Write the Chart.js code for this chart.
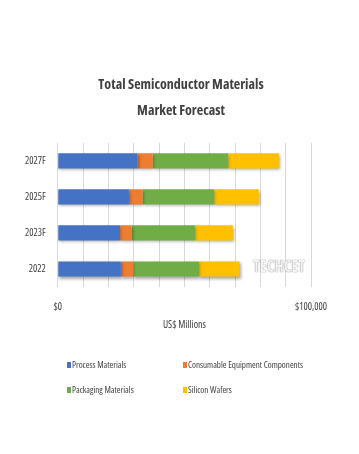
<!DOCTYPE html>
<html>
<head>
<meta charset="utf-8">
<script src="https://cdn.jsdelivr.net/npm/chart.js@4"></script>
<style>
  html, body { margin: 0; padding: 0; background: #fff; }
  #wrap { position: relative; width: 359px; height: 454px; }
  #chart { position: absolute; left: 0; top: 0; }
  .legend-item { position: absolute; font-family: 'Open Sans', sans-serif; font-stretch: condensed; font-size: 9px; color: #404040; white-space: nowrap; line-height: 10px; }
  .legend-item i { display: inline-block; width: 4px; height: 6px; margin-right: 1px; }
  #mark { position: absolute; left: 253px; top: 255px; font-family: 'Open Sans', sans-serif; font-stretch: condensed; font-weight: bold; font-size: 16px; color: #f4f4f4; text-shadow: 0 0 1px #888, 0 0 1px #888; }
</style>
</head>
<body>
<div id="wrap">
  <canvas id="chart" width="359" height="454"></canvas>
  <div id="mark">TECHCET</div>
</div>
<script>
// Categories, top to bottom.
const YEARS = ['2027F', '2025F', '2023F', '2022'];

// Values in US$ millions.
const PROCESS_MATERIALS = [31500, 28100, 24600, 24900];
const CONSUMABLE_COMPONENTS = [6000, 5400, 4600, 4900];
const PACKAGING_MATERIALS = [29800, 28300, 25100, 26100];
const SILICON_WAFERS = [20000, 17600, 14800, 15900];

const SERIES_NAMES = ['Process Materials', 'Consumable Equipment Components', 'Packaging Materials', 'Silicon Wafers'];
const SERIES_COLORS = ['#4472C4', '#ED7D31', '#70AD47', '#FFC000'];

// Only the two end ticks carry a label.
const X_TICK_LABELS = { 0: '$0', 100000: '$100,000' };

// Chart.js rejects 'condensed' as a style, so the stretch rides along in the weight.
const FONT = "'Open Sans', sans-serif";
const NARROW = 'condensed normal';
const NARROW_BOLD = 'condensed bold';
const TEXT_COLOR = '#404040';

// Legend positions follow the two-column layout of the original.
const LEGEND_POS = [[67, 360], [183, 360], [67, 385], [183, 385]];

// Soft drop shadow under the bars, like the Excel original.
const barShadow = {
    id: 'barShadow',
    beforeDatasetsDraw(chart) {
        const ctx = chart.ctx;
        ctx.save();
        ctx.shadowColor = 'rgba(0, 0, 0, 0.35)';
        ctx.shadowBlur = 3;
        ctx.shadowOffsetX = 1;
        ctx.shadowOffsetY = 2;
    },
    afterDatasetsDraw(chart) {
        chart.ctx.restore();
    },
};

const seriesData = [PROCESS_MATERIALS, CONSUMABLE_COMPONENTS, PACKAGING_MATERIALS, SILICON_WAFERS];

new Chart(document.getElementById('chart').getContext('2d'), {
    type: 'bar',
    data: {
        labels: YEARS,
        datasets: seriesData.map(function(values, i) {
            return {
                label: SERIES_NAMES[i],
                data: values,
                backgroundColor: SERIES_COLORS[i],
                borderWidth: 0,
                barPercentage: 0.42,
                categoryPercentage: 1.0,
            };
        }),
    },
    options: {
        indexAxis: 'y',
        responsive: false,
        animation: false,
        // Small, near-even side padding keeps the title centred on the page;
        // the empty right-hand axis below supplies the rest of the right margin.
        layout: {
            padding: { top: 72, left: 21, right: 18, bottom: 123 },
        },
        scales: {
            x: {
                stacked: true,
                min: 0,
                max: 100000,
                border: { display: false },
                grid: { color: '#d9d9d9', drawTicks: false },
                ticks: {
                    stepSize: 10000,
                    autoSkip: false,
                    maxRotation: 0,
                    padding: 14,
                    color: TEXT_COLOR,
                    font: { family: FONT, weight: NARROW, size: 10 },
                    callback: function(value) {
                        return X_TICK_LABELS[value] || '';
                    },
                },
                title: {
                    display: true,
                    text: 'US$ Millions',
                    color: TEXT_COLOR,
                    font: { family: FONT, weight: NARROW, size: 10 },
                    padding: { top: -8, bottom: 0 },
                },
            },
            y: {
                stacked: true,
                border: { display: false },
                grid: { display: false },
                ticks: {
                    padding: 4,
                    color: TEXT_COLOR,
                    font: { family: FONT, weight: NARROW, size: 10 },
                },
            },
            spacer: {
                type: 'category',
                position: 'right',
                border: { display: false },
                grid: { display: false },
                ticks: { display: false },
                afterFit: function(scale) {
                    scale.width = 30;
                },
            },
        },
        plugins: {
            legend: { display: false },
            tooltip: { enabled: false },
            title: {
                display: true,
                text: ['Total Semiconductor Materials', 'Market Forecast'],
                color: '#404040',
                font: { family: FONT, weight: NARROW_BOLD, size: 14, lineHeight: 1.85 },
                padding: { top: 0, bottom: 19 },
            },
        },
    },
    plugins: [barShadow],
});

// Two-column legend below the plot.
const wrap = document.getElementById('wrap');
SERIES_NAMES.forEach(function(name, i) {
    let item = document.createElement('div');
    item.className = 'legend-item';
    item.style.left = LEGEND_POS[i][0] + 'px';
    item.style.top = LEGEND_POS[i][1] + 'px';
    let box = document.createElement('i');
    box.style.background = SERIES_COLORS[i];
    item.appendChild(box);
    item.appendChild(document.createTextNode(name));
    wrap.appendChild(item);
});
</script>
</body>
</html>
